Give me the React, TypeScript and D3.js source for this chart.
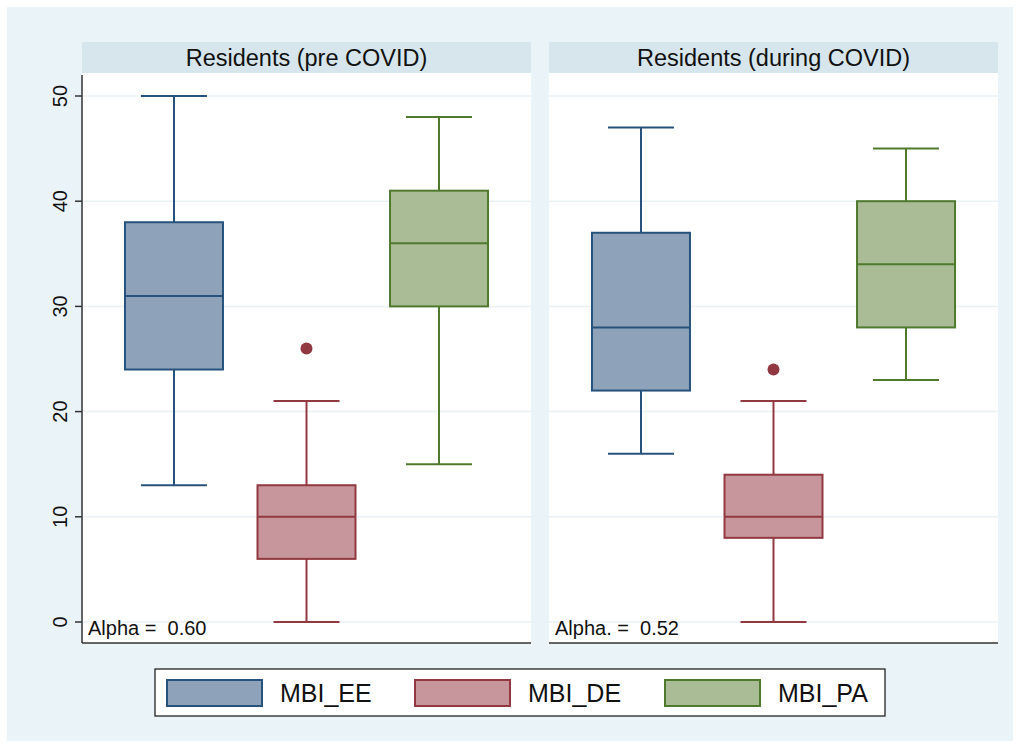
import * as d3 from "d3";

// category keys, panels and five-number summaries
const measures = ["MBI_EE", "MBI_DE", "MBI_PA"];
const panels = ["Residents (pre COVID)", "Residents (during COVID)"];
const alphaLabels = ["Alpha =  0.60", "Alpha. =  0.52"];
const yTicks = [0, 10, 20, 30, 40, 50];

// [min, q1, median, q3, max] per measure, per panel
const preStats = [
    [13, 24, 31, 38, 50],
    [0, 6, 10, 13, 21],
    [15, 30, 36, 41, 48],
];
const duringStats = [
    [16, 22, 28, 37, 47],
    [0, 8, 10, 14, 21],
    [23, 28, 34, 40, 45],
];
const preOutliers = [[], [26], []];
const duringOutliers = [[], [24], []];

const fills = ["#8ea3b9", "#c7969c", "#a9bc95"];
const strokes = ["#26527c", "#923840", "#4f7a2e"];

function App() {
    const width = 1021;
    const height = 749;
    const panelX = [82, 549];
    const panelW = 449;
    const plotTop = 73;
    const plotBottom = 643;
    const headerTop = 42;

    const y = d3.scaleLinear().domain([0, 50]).range([622, 96]);
    const x = d3.scalePoint().domain(measures).range([0, panelW]).padding(0.694);
    const boxW = 98;
    const capW = 66;

    const allStats = [preStats, duringStats];
    const allOutliers = [preOutliers, duringOutliers];
    const font = "'Liberation Sans', Arial, Helvetica, sans-serif";

    return (
        <svg width={width} height={height} style={{ position: "absolute", left: 0, top: 0, background: "#ffffff" }} fontFamily={font}>
            <rect x={7} y={7} width={1006} height={734} fill="#eaf3f7" />

            {panels.map((title, p) => (
                <g key={title} transform={`translate(${panelX[p]},0)`}>
                    <rect x={0} y={headerTop} width={panelW} height={plotTop - headerTop} fill="#d6e6ec" />
                    <text x={panelW / 2} y={(headerTop + plotTop) / 2 + 8} textAnchor="middle" fontSize={23.5} fill="#111">{title}</text>
                    <rect x={0} y={plotTop} width={panelW} height={plotBottom - plotTop} fill="#ffffff" />

                    {yTicks.map((t) => (
                        <line key={t} x1={0} x2={panelW} y1={y(t)} y2={y(t)} stroke="#e9f1f4" strokeWidth={1.5} />
                    ))}

                    {measures.map((m, i) => {
                        const [mn, q1, med, q3, mx] = allStats[p][i];
                        const cx = x(m)!;
                        return (
                            <g key={m} stroke={strokes[i]} strokeWidth={2}>
                                <line x1={cx} x2={cx} y1={y(mx)} y2={y(q3)} />
                                <line x1={cx} x2={cx} y1={y(q1)} y2={y(mn)} />
                                <line x1={cx - capW / 2} x2={cx + capW / 2} y1={y(mx)} y2={y(mx)} />
                                <line x1={cx - capW / 2} x2={cx + capW / 2} y1={y(mn)} y2={y(mn)} />
                                <rect x={cx - boxW / 2} y={y(q3)} width={boxW} height={y(q1) - y(q3)} fill={fills[i]} />
                                <line x1={cx - boxW / 2} x2={cx + boxW / 2} y1={y(med)} y2={y(med)} />
                                {allOutliers[p][i].map((o) => (
                                    <circle key={o} cx={cx} cy={y(o)} r={6} fill={strokes[i]} stroke="none" />
                                ))}
                            </g>
                        );
                    })}

                    <line x1={0} x2={panelW} y1={plotBottom} y2={plotBottom} stroke="#333" strokeWidth={1.5} />
                    <text x={6} y={635} fontSize={20} fill="#111" xmlSpace="preserve" style={{ whiteSpace: "pre" }}>{alphaLabels[p]}</text>
                </g>
            ))}

            {/* y axis on the left panel */}
            <line x1={panelX[0]} x2={panelX[0]} y1={75} y2={plotBottom} stroke="#333" strokeWidth={1.5} />
            {yTicks.map((t) => (
                <g key={t} transform={`translate(${panelX[0]},${y(t)})`}>
                    <line x1={-7} x2={0} stroke="#333" strokeWidth={1.5} />
                    <text transform="rotate(-90)" x={0} y={-15} textAnchor="middle" fontSize={20} fill="#111">{t}</text>
                </g>
            ))}

            {/* legend */}
            <rect x={155} y={669} width={730} height={47} fill="#ffffff" stroke="#111" strokeWidth={1.2} />
            {measures.map((m, i) => {
                const lx = [167, 415, 665][i];
                return (
                    <g key={m}>
                        <rect x={lx} y={680} width={95} height={26} fill={fills[i]} stroke={strokes[i]} strokeWidth={2} />
                        <text x={lx + 113} y={702} fontSize={25} fill="#111">{m}</text>
                    </g>
                );
            })}
        </svg>
    );
}

export default App;
